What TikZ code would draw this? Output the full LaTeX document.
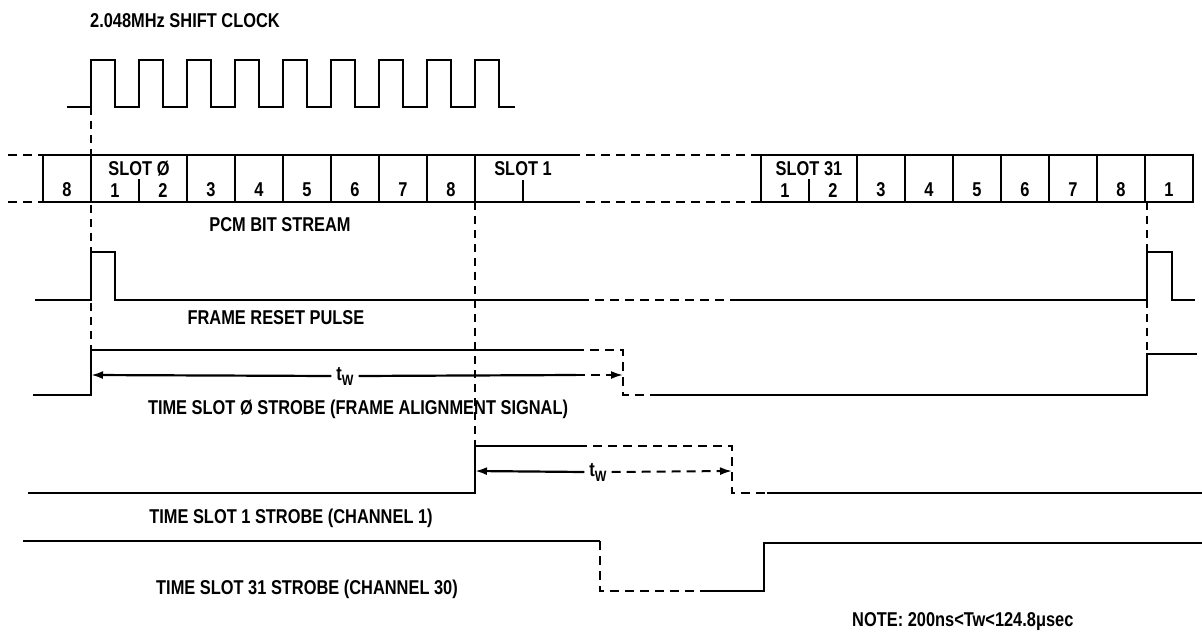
\documentclass[tikz,border=0pt]{standalone}
\usepackage{fontspec}
\setmainfont{Liberation Sans}[FakeStretch=0.82]
\usetikzlibrary{arrows.meta}
\begin{document}
\begin{tikzpicture}[x=1pt,y=-1pt,>={Latex[length=12pt,width=8pt]},line cap=butt,line join=miter]
\useasboundingbox[fill=white] (0,0) rectangle (1202,642);
\tikzset{sig/.style={draw=black,line width=2.2pt},dsig/.style={draw=black,line width=2pt,dash pattern=on 9pt off 6pt},guide/.style={draw=black,line width=1.5pt,dash pattern=on 8pt off 6pt},lbl/.style={font=\bfseries\fontsize{20}{22}\selectfont,inner sep=0pt},twl/.style={lbl,inner xsep=5pt}}
\node[lbl,anchor=west] (title) at (90,21) {2.048MHz SHIFT CLOCK};
% shift clock
\draw[sig] (67,107) \foreach \k in {0,...,8} { -- ({91+48*\k},107) -- ({91+48*\k},60) -- ({115+48*\k},60) -- ({115+48*\k},107) } -- (515,107);
% guide lines
\draw[guide] (91,107) -- (91,350);
\draw[guide] (475,202) -- (475,446);
\draw[guide] (1147,202) -- (1147,354);
% pcm bit stream
\draw[dsig] (8,155) -- (43,155); \draw[dsig] (8,202) -- (43,202);
\draw[sig] (571,155) -- (43,155) -- (43,202) -- (571,202);
\foreach \x in {91,187,235,283,331,379,427,475} \draw[sig] (\x,155) -- (\x,202);
\draw[sig] (139,179) -- (139,202); \draw[sig] (523,180) -- (523,202);
\draw[dsig] (571,155) -- (761,155); \draw[dsig] (571,202) -- (761,202);
\draw[sig] (761,155) rectangle (1193,202);
\foreach \x in {857,905,953,1001,1049,1097,1145} \draw[sig] (\x,155) -- (\x,202);
\draw[sig] (809,179) -- (809,202);
\node[lbl] (b8) at (67,190) {8};
\node[lbl] (s0) at (139,169) {SLOT Ø};
\node[lbl] (s0a) at (115,191) {1}; \node[lbl] (s0b) at (163,191) {2};
\foreach \n/\x in {3/211,4/259,5/307,6/355,7/403,8/451} \node[lbl] (c\n) at (\x,190) {\n};
\node[lbl] (s1) at (523,169) {SLOT 1};
\node[lbl] (s31) at (809,169) {SLOT 31};
\node[lbl] (s31a) at (785,191) {1}; \node[lbl] (s31b) at (833,191) {2};
\foreach \n/\x in {3/881,4/929,5/977,6/1025,7/1073,8/1121} \node[lbl] (d\n) at (\x,190) {\n};
\node[lbl] (e1) at (1169,190) {1};
\node[lbl] (pcm) at (280,225) {PCM BIT STREAM};
% frame reset pulse
\draw[sig] (35,300) -- (91,300) -- (91,252) -- (115,252) -- (115,300) -- (580,300);
\draw[dsig] (580,300) -- (736,300);
\draw[sig] (736,300) -- (1147,300) -- (1147,252) -- (1172,252) -- (1172,300) -- (1195,300);
\node[lbl] (frame) at (276,318) {FRAME RESET PULSE};
% time slot 0 strobe
\draw[sig] (33,395) -- (91,395) -- (91,350) -- (575,350);
\draw[dsig] (575,350) -- (623,350) -- (623,395) -- (657,395);
\draw[sig] (657,395) -- (1147,395) -- (1147,354) -- (1197,354);
\coordinate (w0) at (91,375); \coordinate (w0d) at (576,375); \coordinate (w0e) at (623,375);
\node[twl] (tw0) at (345,376) {t\raisebox{-5pt}{\fontsize{15}{15}\selectfont W}};
\draw[sig,<-] (w0) -- (tw0.west); \draw[sig] (tw0.east) -- (w0d); \draw[dsig,->] (w0d) -- (w0e);
\node[lbl] (ts0) at (358,409) {TIME SLOT Ø STROBE (FRAME ALIGNMENT SIGNAL)};
% time slot 1 strobe
\draw[sig] (28,493) -- (475,493) -- (475,446) -- (578,446);
\draw[dsig] (578,446) -- (732,446) -- (732,493) -- (767,493);
\draw[sig] (767,493) -- (1202,493);
\coordinate (w1) at (475,471); \coordinate (w1e) at (732,471);
\node[twl] (tw1) at (598,472) {t\raisebox{-5pt}{\fontsize{15}{15}\selectfont W}};
\draw[sig,<-] (w1) -- (tw1.west); \draw[dsig,->] (tw1.east) -- (w1e);
\node[lbl] (ts1) at (291,518) {TIME SLOT 1 STROBE (CHANNEL 1)};
% time slot 31 strobe
\draw[sig] (23,541) -- (600,541);
\draw[dsig] (600,541) -- (600,591) -- (700,591);
\draw[sig] (700,591) -- (764,591) -- (764,543) -- (1202,543);
\node[lbl] (ts31) at (307,589) {TIME SLOT 31 STROBE (CHANNEL 30)};
\node[lbl,anchor=west] (note) at (852,622) {NOTE: 200ns<Tw<124.8μsec};
\end{tikzpicture}
\end{document}
